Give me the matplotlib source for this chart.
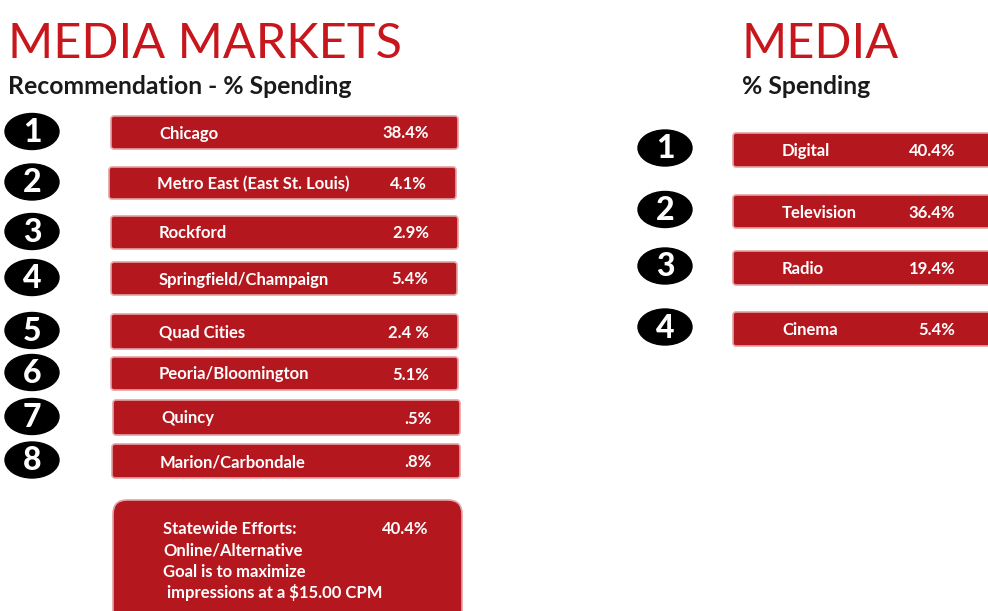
import matplotlib
matplotlib.use("Agg")
import matplotlib.pyplot as plt
from matplotlib.patches import FancyBboxPatch, Ellipse

# data
markets = ["Chicago", "Metro East (East St. Louis)", "Rockford",
           "Springfield/Champaign", "Quad Cities", "Peoria/Bloomington",
           "Quincy", "Marion/Carbondale"]
market_values = ["38.4%", "4.1%", "2.9%", "5.4%", "2.4 %", "5.1%", ".5%", ".8%"]
statewide_lines = ["Statewide Efforts:", "Online/Alternative",
                   "Goal is to maximize", " impressions at a $15.00 CPM"]
statewide_value = "40.4%"
media = ["Digital", "Television", "Radio", "Cinema"]
media_values = ["40.4%", "36.4%", "19.4%", "5.4%"]

RED = "#b5171e"
TITLE_RED = "#c8161d"
FONT = "Lato"

fig = plt.figure(figsize=(9.88, 6.11), dpi=100)
ax = fig.add_axes([0, 0, 1, 1])
ax.set_xlim(0, 988)
ax.set_ylim(611, 0)
ax.axis("off")


def box(x0, y0, x1, y1, r=3):
    p = FancyBboxPatch((x0, y0), x1 - x0, y1 - y0,
                       boxstyle="round,pad=0,rounding_size=%d" % r,
                       fc=RED, ec="#e3a3a5", lw=1.2)
    ax.add_patch(p)


def badge(cx, cy, n):
    ax.add_patch(Ellipse((cx, cy), 54, 36, fc="black", ec="black"))
    ax.text(cx, cy + 1, str(n), color="white", fontsize=23, fontweight="black",
            family=FONT, ha="center", va="center")


# titles
ax.text(8, 58, "MEDIA MARKETS", color=TITLE_RED, fontsize=35, family=FONT,
        va="baseline")
ax.text(8, 94, "Recommendation - % Spending", color="#1a1a1a", fontsize=17.8,
        fontweight="bold", family=FONT, va="baseline")
ax.text(741, 58, "MEDIA", color=TITLE_RED, fontsize=35, family=FONT,
        va="baseline")
ax.text(742, 94, "% Spending", color="#1a1a1a", fontsize=17.8,
        fontweight="bold", family=FONT, va="baseline")

# left list
left_rows = [(116, 149), (167, 199), (216, 249), (262, 295),
             (314, 349), (357, 390), (400, 435), (444, 478)]
left_x = [(111, 458), (109, 456), (111, 458), (111, 457),
          (111, 458), (111, 458), (113, 460), (112, 460)]
for i, (name, val) in enumerate(zip(markets, market_values)):
    y0, y1 = left_rows[i]
    x0, x1 = left_x[i]
    box(x0, y0, x1, y1)
    yc = (y0 + y1) / 2
    badge(32, yc - 1, i + 1)
    ax.text(x0 + 48, yc + 1, name, color="white", fontsize=12, fontweight="bold",
            family=FONT, va="center")
    ax.text(x1 - 29, yc + 1, val, color="white", fontsize=12, fontweight="bold",
            family=FONT, va="center", ha="right")

# statewide box
box(113, 500, 462, 640, r=14)
for k, line in enumerate(statewide_lines):
    ax.text(163, 529 + k * 21.3, line, color="white", fontsize=12,
            fontweight="bold", family=FONT, va="center")
ax.text(428, 529, statewide_value, color="white", fontsize=12,
        fontweight="bold", family=FONT, va="center", ha="right")

# right list
right_rows = [(133, 167), (195, 228), (251, 285), (312, 346)]
for i, (name, val) in enumerate(zip(media, media_values)):
    y0, y1 = right_rows[i]
    box(733, y0, 1010, y1)
    yc = (y0 + y1) / 2
    badge(665, yc - 2, i + 1)
    ax.text(782, yc + 1, name, color="white", fontsize=12, fontweight="bold",
            family=FONT, va="center")
    ax.text(955, yc + 1, val, color="white", fontsize=12, fontweight="bold",
            family=FONT, va="center", ha="right")

fig.savefig("out.png", dpi=100, facecolor="white")
